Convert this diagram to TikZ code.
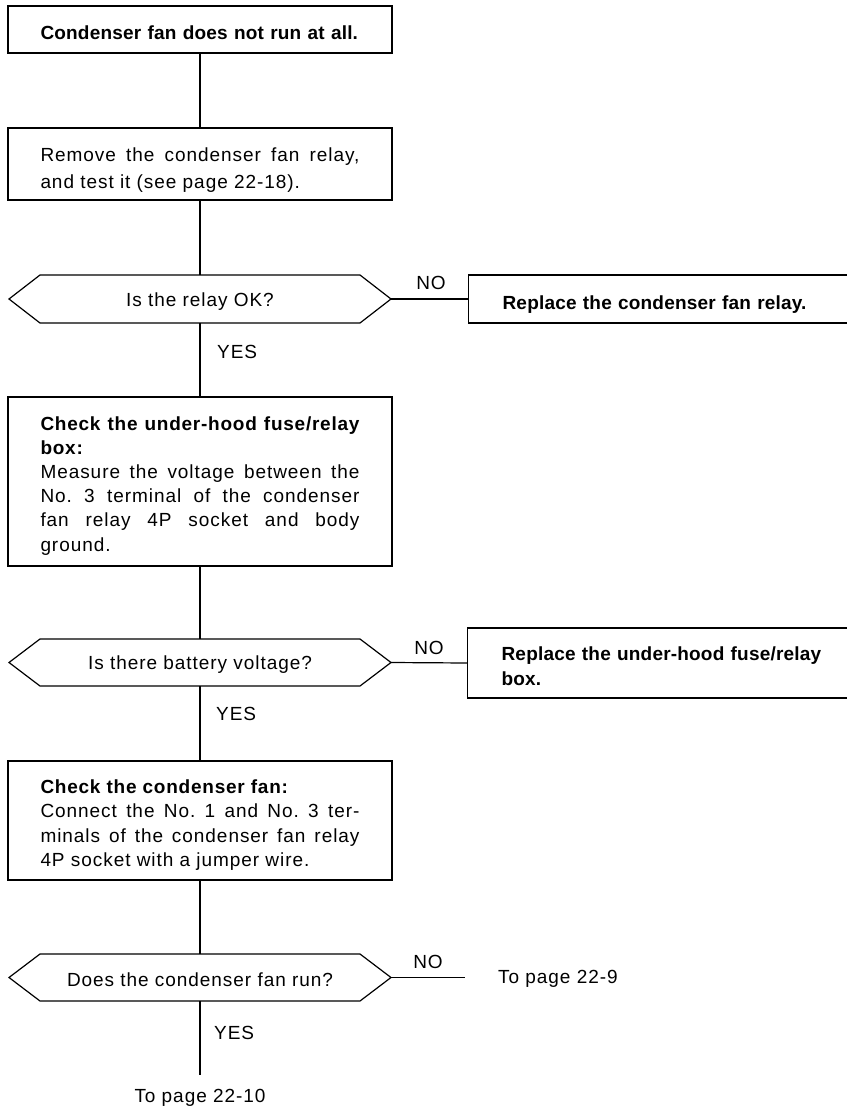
\documentclass[tikz,border=0pt]{standalone}
\usepackage{fontspec}
\setmainfont{Liberation Sans}
\newfontfamily\rgfont{Liberation Sans}[LetterSpace=5]
\newfontfamily\bdfont{Liberation Sans}[LetterSpace=1]
\newfontfamily\bdwfont{Liberation Sans}[LetterSpace=4]
\usetikzlibrary{calc}
\newcommand{\bt}[1]{{\bdfont\bfseries #1}}
\newcommand{\btw}[1]{{\bdwfont\bfseries #1}}
\newcommand{\up}[1]{\rule{0pt}{#1}}
\tikzset{
  ln/.style={line width=1.2pt},
  txt/.style={font=\rgfont\fontsize{19}{24.2}\selectfont},
  box/.style={draw, ln, txt, minimum width=384pt, text width=319pt, inner xsep=0pt, inner ysep=0pt, align=justify},
  sidebox/.style={draw, ln, txt, anchor=west, minimum width=380pt, text width=312pt, inner xsep=0pt, inner ysep=0pt, align=left},
  hexnode/.style={txt, minimum width=320pt, inner sep=0pt, outer sep=0pt},
  lbl/.style={txt, inner sep=0pt}
}
\begin{document}
\begin{tikzpicture}[x=1pt,y=-1pt]
\useasboundingbox (0,0) rectangle (846,1110);

% boxes
\node[box, align=left, minimum height=47pt] (b1) at (200,29.5) {\up{20pt}\bt{Condenser fan does not run at all.}};
\node[box, minimum height=72pt, font=\rgfont\fontsize{19}{26.5}\selectfont] (b2) at (200,164) {\up{26pt}Remove the condenser fan relay,\linebreak and test it (see page 22-18).};

% decision 1
\node[hexnode, minimum height=48pt] (d1) at (200,299) {\up{18pt}Is the relay OK?};
\coordinate (d1r) at ($(d1.east)+(31,0)$);
\coordinate (d1l) at ($(d1.west)+(-31,0)$);
\draw[ln] (d1.north west) -- (d1.north east) -- (d1r) -- (d1.south east) -- (d1.south west) -- (d1l) -- cycle;

\node[sidebox, minimum height=48pt] (r1) at (468,299) {\up{24pt}\bt{Replace the condenser fan relay.}};

\node[box, minimum height=169pt] (b3) at (200,481.5) {\up{22pt}\btw{Check the under-hood fuse/relay\linebreak box:}\\ Measure the voltage between the\linebreak No.~3 terminal of the condenser\linebreak fan relay 4P socket and body\linebreak ground.};

% decision 2
\node[hexnode, minimum height=47pt] (d2) at (200,662.5) {\up{18pt}Is there battery voltage?};
\coordinate (d2r) at ($(d2.east)+(31,0)$);
\coordinate (d2l) at ($(d2.west)+(-31,0)$);
\draw[ln] (d2.north west) -- (d2.north east) -- (d2r) -- (d2.south east) -- (d2.south west) -- (d2l) -- cycle;

\node[sidebox, minimum height=70pt, text width=340pt, minimum width=408pt] (r2) at (467,663) {\up{20pt}\bt{Replace the under-hood fuse/relay\\ box.}};

\node[box, minimum height=119pt] (b4) at (200,820.5) {\up{23pt}\btw{Check the condenser fan:}\\ Connect the No.~1 and No.~3 ter-\linebreak minals of the condenser fan relay\linebreak 4P socket with a jumper wire.};

% decision 3
\node[hexnode, minimum height=47pt] (d3) at (200,977.5) {\up{18pt}Does the condenser fan run?};
\coordinate (d3r) at ($(d3.east)+(31,0)$);
\coordinate (d3l) at ($(d3.west)+(-31,0)$);
\draw[ln] (d3.north west) -- (d3.north east) -- (d3r) -- (d3.south east) -- (d3.south west) -- (d3l) -- cycle;

\coordinate (e3) at (465,977.5);
\node[lbl, anchor=west] (p9) at (498,979) {To page 22-9};
\coordinate (e4) at (200,1075);
\node[lbl] (p10) at (200,1098) {To page 22-10};

% connectors
\draw[ln] (b1.south) -- (b2.north);
\draw[ln] (b2.south) -- (d1.north);
\draw[ln] (d1.south) -- (b3.north);
\draw[ln] (d1r) -- (r1.west);
\draw[ln] (b3.south) -- (d2.north);
\draw[ln] (d2r) -- (r2.west);
\draw[ln] (d2.south) -- (b4.north);
\draw[ln] (b4.south) -- (d3.north);
\draw[ln] (d3r) -- (e3);
\draw[ln] (d3.south) -- (e4);

% labels
\node[lbl, anchor=west] (y1) at (217,352) {YES};
\node[lbl] (n1) at (431,283) {NO};
\node[lbl, anchor=west] (y2) at (216,714) {YES};
\node[lbl] (n2) at (429,648) {NO};
\node[lbl, anchor=west] (y3) at (214,1033) {YES};
\node[lbl] (n3) at (428,962) {NO};
\end{tikzpicture}
\end{document}
